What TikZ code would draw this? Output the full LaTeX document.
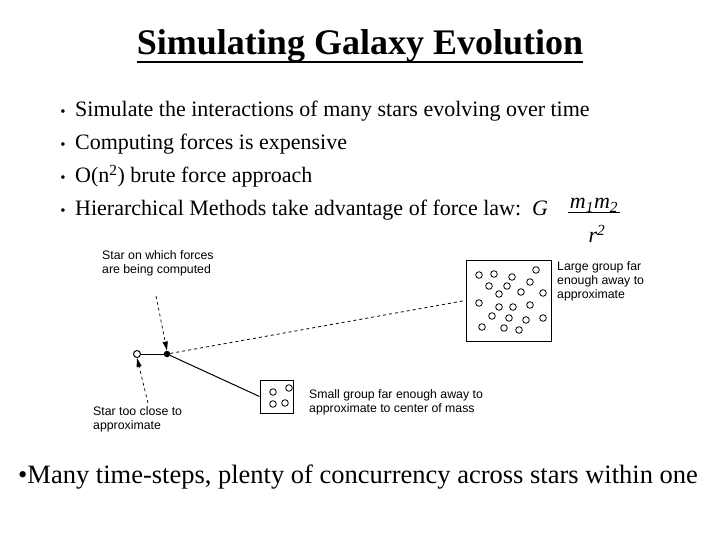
\documentclass[tikz,border=0pt]{standalone}
\usepackage{fontspec}
\setmainfont{Liberation Serif}
\newfontfamily\diagfont{Liberation Sans}
\usetikzlibrary{arrows.meta}
\begin{document}
\begin{tikzpicture}[x=1pt,y=-1pt,
  bullettext/.style={anchor=base west,inner sep=0pt,font=\fontsize{22}{26}\selectfont},
  bulletdot/.style={anchor=base,inner sep=0pt,font=\fontsize{15}{17}\selectfont},
  label/.style={anchor=base west,inner sep=0pt,align=left,font=\diagfont\fontsize{12.3}{13.7}\selectfont},
  groupbox/.style={draw,line width=1pt,inner sep=0pt},
  gstar/.style={line width=0.8pt},
  pointer/.style={dashed,line width=0.7pt,-{Triangle[length=9pt,width=5pt]}},
  link/.style={line width=1pt}]
\useasboundingbox (0,0) rectangle (720,540);
% title
\node[anchor=base,inner sep=0pt,font=\fontsize{36}{40}\selectfont\bfseries] (title) at (360,55) {Simulating Galaxy Evolution};
\draw[line width=2pt] ([yshift=-7pt]title.base west) -- ([yshift=-7pt]title.base east);
% bullets
\node[bulletdot] (d1) at (63,117) {•};
\node[bullettext] (b1) at (75,117) {Simulate the interactions of many stars evolving over time};
\node[bulletdot] (d2) at (63,150) {•};
\node[bullettext] (b2) at (75,150) {Computing forces is expensive};
\node[bulletdot] (d3) at (63,183) {•};
\node[bullettext] (b3) at (75,183) {O(n\textsuperscript{2}) brute force approach};
\node[bulletdot] (d4) at (63,215) {•};
\node[bullettext] (b4) at (75,215) {Hierarchical Methods take advantage of force law:};
\node[bullettext,font=\fontsize{22}{26}\selectfont\itshape] (g) at (532,215) {G};
% formula
\node[anchor=base,inner sep=0pt,font=\fontsize{22}{26}\selectfont\itshape] (num) at (594,209) {m\textsubscript{1}m\textsubscript{2}};
\draw[line width=1pt] (568,213) -- (620,213);
\node[anchor=base,inner sep=0pt,font=\fontsize{22}{26}\selectfont\itshape] (den) at (597,243) {r\textsuperscript{2}};
% diagram
\node[circle,draw,fill=white,line width=1pt,inner sep=0pt,minimum size=7pt] (near) at (137,354) {};
\node[circle,fill=black,inner sep=0pt,minimum size=6.5pt] (self) at (167,354) {};
\node[groupbox,minimum width=33pt,minimum height=33pt] (small) at (276.5,396.5) {};
\node[groupbox,minimum width=85pt,minimum height=81pt] (large) at (508.5,300.5) {};
\draw[link] (near) -- (self);
\draw[link] (self) -- (small.west);
\draw[dashed,line width=0.8pt] (self) -- (large.west);
\coordinate (p1) at (156,296);
\coordinate (p2) at (148,403);
\draw[pointer] (p1) -- (self.north);
\draw[pointer] (p2) -- (near.south);
% stars in small group
\foreach \x/\y in {273/392, 289/388, 273/404, 285/403}
  \draw[gstar] (\x,\y) circle (3.3);
% stars in large group
\foreach \x/\y in {479/275, 494/274, 512/277, 536/270, 530/282, 489/286, 507/286, 499/294, 521/292, 543/293, 479/303, 499/307, 513/307, 530/305, 492/316, 509/318, 526/320, 543/318, 482/327, 504/328, 519/330}
  \draw[gstar] (\x,\y) circle (3.3);
% labels (base = last line)
\node[label] (l1) at (102,273) {Star on which forces\\are being computed};
\node[label] (l2) at (93,429) {Star too close to\\approximate};
\node[label] (l3) at (309,412) {Small group far enough away to\\approximate to center of mass};
\node[label] (l4) at (557,298) {Large group far\\enough away to\\approximate};
% last line
\node[anchor=base west,inner sep=0pt,font=\fontsize{26.5}{30}\selectfont] (last) at (18,483) {•Many time-steps, plenty of concurrency across stars within one};
\end{tikzpicture}
\end{document}
